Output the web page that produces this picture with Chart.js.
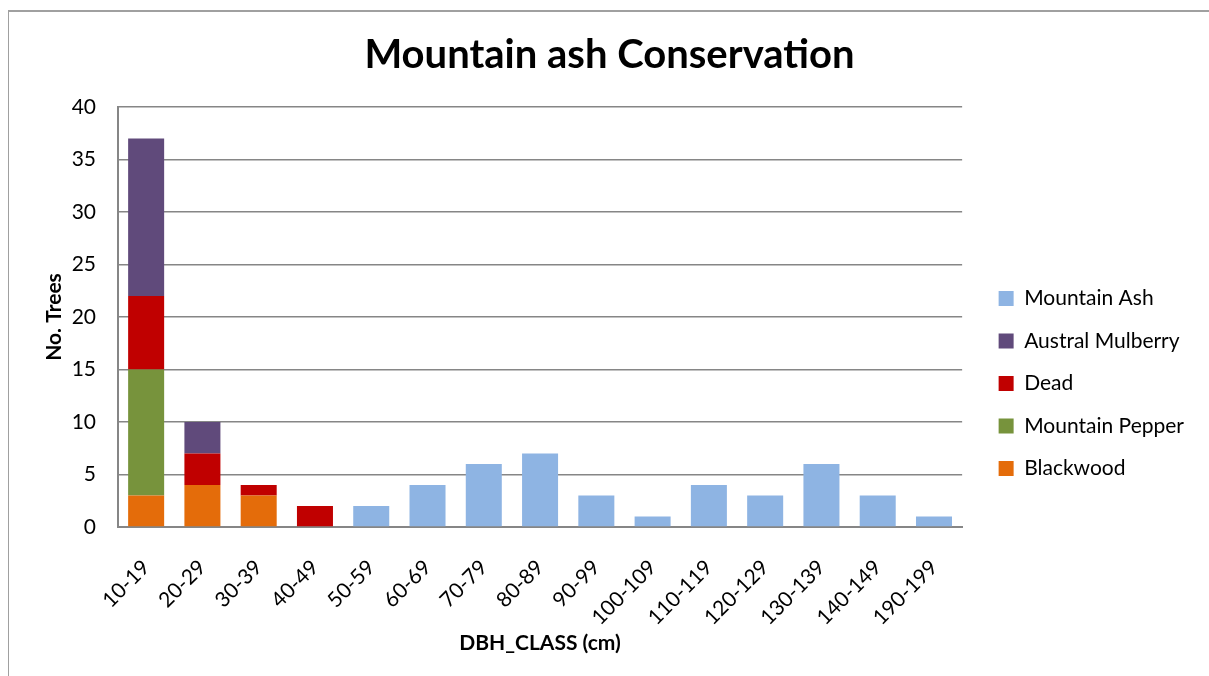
<!DOCTYPE html>
<html>
<head>
<meta charset="utf-8">
<script src="https://cdn.jsdelivr.net/npm/chart.js@4"></script>
<style>
  html, body { margin: 0; padding: 0; background: #fff; overflow: hidden; }
  #frame { position: absolute; left: 8px; top: 10px; width: 1220px; height: 700px; border-top: 2px solid #a0a0a0; border-left: 1px solid #a0a0a0; }
  #wrap { position: absolute; left: 0; top: 0; width: 1209px; height: 676px; }
</style>
</head>
<body>
<div id="frame"></div>
<div id="wrap"><canvas id="chart"></canvas></div>
<script>
// --- Data ---
const classes = ['10-19', '20-29', '30-39', '40-49', '50-59', '60-69', '70-79', '80-89', '90-99',
                 '100-109', '110-119', '120-129', '130-139', '140-149', '190-199'];
const blackwood       = [3, 4, 3, 0, 0, 0, 0, 0, 0, 0, 0, 0, 0, 0, 0];
const mountainPepper  = [12, 0, 0, 0, 0, 0, 0, 0, 0, 0, 0, 0, 0, 0, 0];
const dead            = [7, 3, 1, 2, 0, 0, 0, 0, 0, 0, 0, 0, 0, 0, 0];
const australMulberry = [15, 3, 0, 0, 0, 0, 0, 0, 0, 0, 0, 0, 0, 0, 0];
const mountainAsh     = [0, 0, 0, 0, 2, 4, 6, 7, 3, 1, 4, 3, 6, 3, 1];

const fontFam = 'Lato, "Open Sans", sans-serif';
const grey = '#868686';

function serie(label, data, color) {
    return { label: label, data: data, backgroundColor: color, borderWidth: 0, barPercentage: 0.64, categoryPercentage: 1 };
}

// nudge the legend away from the plot (Chart.js has no legend margin option)
const legendOffset = {
    id: 'legendOffset',
    afterLayout(chart) {
        const l = chart.legend, dx = 15, dy = 40;
        l.left += dx; l.right += dx; l.top += dy; l.bottom += dy;
    }
};

const ctx = document.getElementById('chart').getContext('2d');
new Chart(ctx, {
    type: 'bar',
    data: {
        labels: classes,
        datasets: [
            serie('Blackwood', blackwood, '#E46C0A'),
            serie('Mountain Pepper', mountainPepper, '#77933C'),
            serie('Dead', dead, '#C00000'),
            serie('Austral Mulberry', australMulberry, '#604A7B'),
            serie('Mountain Ash', mountainAsh, '#8EB4E3')
        ]
    },
    plugins: [legendOffset],
    options: {
        responsive: true,
        maintainAspectRatio: false,
        animation: false,
        layout: { autoPadding: false, padding: { left: 40, right: 30, top: 31, bottom: 20 } },
        plugins: {
            title: { display: true, text: 'Mountain ash Conservation', color: '#000', font: { family: fontFam, size: 40, weight: 'bold' }, padding: { top: 0, bottom: 28 } },
            legend: {
                position: 'right', reverse: true,
                labels: { color: '#000', boxWidth: 15, boxHeight: 15, padding: 21.5, font: { family: fontFam, size: 21 } }
            },
            tooltip: { enabled: false }
        },
        scales: {
            x: {
                stacked: true,
                afterFit: (scale) => { scale.height = 129; },
                grid: { display: false, drawTicks: false },
                border: { color: grey, width: 2 },
                ticks: { color: '#000', font: { family: fontFam, size: 21 }, minRotation: 45, maxRotation: 45, padding: 28 },
                title: { display: true, text: 'DBH_CLASS (cm)', color: '#000', font: { family: fontFam, size: 21, weight: 'bold' }, padding: { top: 9, bottom: 0 } }
            },
            y: {
                stacked: true, min: 0, max: 40,
                afterFit: (scale) => { scale.width = 78; },
                grid: { color: grey, lineWidth: 1.5, drawTicks: false },
                border: { color: grey, width: 2 },
                ticks: { stepSize: 5, color: '#000', font: { family: fontFam, size: 21 }, padding: 22 },
                title: { display: true, text: 'No. Trees', color: '#000', font: { family: fontFam, size: 21, weight: 'bold' }, padding: { top: 2, bottom: 7 } }
            }
        }
    }
});
</script>
</body>
</html>
